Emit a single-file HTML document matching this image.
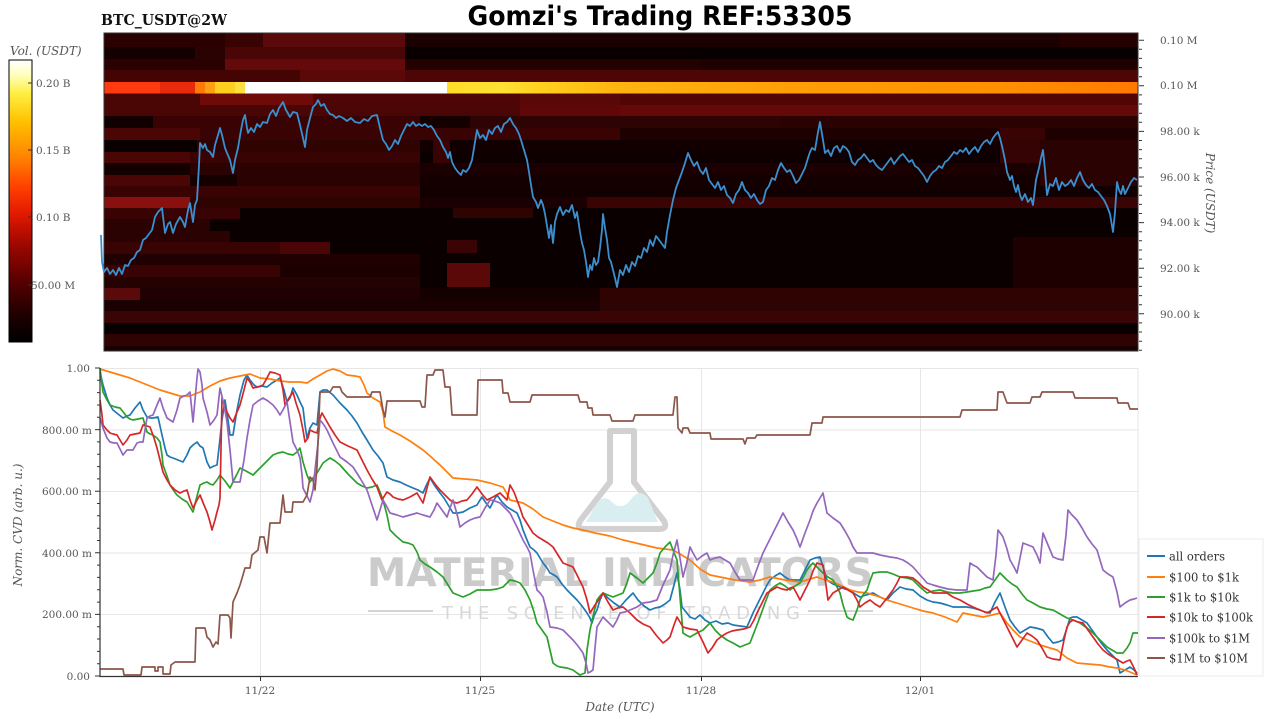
<!DOCTYPE html>
<html><head><meta charset="utf-8"><style>
html,body{margin:0;padding:0;background:#fff;}
svg{display:block;}
.t{font-family:"DejaVu Serif","Liberation Serif",serif;fill:#555;font-size:10.5px;}
.ti{font-family:"DejaVu Serif","Liberation Serif",serif;fill:#555;font-size:12px;font-style:italic;}
.lg{font-family:"DejaVu Serif","Liberation Serif",serif;fill:#333;font-size:12.5px;}
</style></head><body>
<svg width="1280" height="720" viewBox="0 0 1280 720" xmlns="http://www.w3.org/2000/svg">
<defs>
<linearGradient id="cb" x1="0" y1="0" x2="0" y2="1">
<stop offset="0" stop-color="#ffffff"/><stop offset="0.05" stop-color="#ffffc0"/><stop offset="0.12" stop-color="#ffee40"/><stop offset="0.22" stop-color="#ffc000"/><stop offset="0.35" stop-color="#ff8000"/><stop offset="0.45" stop-color="#ff4000"/><stop offset="0.55" stop-color="#e01800"/><stop offset="0.65" stop-color="#a00800"/><stop offset="0.78" stop-color="#5a0000"/><stop offset="0.9" stop-color="#200000"/><stop offset="1" stop-color="#000000"/>
</linearGradient>
<linearGradient id="bnd" x1="447" y1="0" x2="1138" y2="0" gradientUnits="userSpaceOnUse">
<stop offset="0" stop-color="#ffdc28"/><stop offset="0.08" stop-color="#ffe035"/><stop offset="0.14" stop-color="#ffcf1e"/><stop offset="0.25" stop-color="#ffb410"/><stop offset="0.5" stop-color="#ff9e06"/><stop offset="0.8" stop-color="#ff9000"/><stop offset="1" stop-color="#ff7a00"/>
</linearGradient>
</defs>

<!-- Title -->
<text x="660" y="25" text-anchor="middle" textLength="385" lengthAdjust="spacingAndGlyphs" style="font-family:'DejaVu Sans','Liberation Sans',sans-serif;font-weight:bold;font-size:27px;fill:#000;">Gomzi's Trading REF:53305</text>
<text x="101" y="25" textLength="126" lengthAdjust="spacingAndGlyphs" style="font-family:'DejaVu Serif','Liberation Serif',serif;font-weight:bold;font-size:15px;fill:#111;">BTC_USDT@2W</text>

<!-- Heatmap -->
<g shape-rendering="crispEdges">
<rect x="104" y="33" width="1034" height="318" fill="#0a0000"/>
<!-- row 33-47 -->
<rect x="104" y="33" width="121" height="14" fill="#2a0000"/><rect x="225" y="33" width="38" height="14" fill="#3a0303"/><rect x="263" y="33" width="142" height="14" fill="#5a0a0a"/><rect x="405" y="33" width="733" height="14" fill="#1a0000"/><rect x="1060" y="33" width="78" height="14" fill="#250000"/>
<!-- row 47-59 -->
<rect x="104" y="47" width="91" height="12" fill="#150000"/><rect x="195" y="47" width="30" height="12" fill="#2a0202"/><rect x="225" y="47" width="180" height="12" fill="#4a0606"/><rect x="405" y="47" width="733" height="12" fill="#080000"/>
<!-- row 59-70 -->
<rect x="104" y="59" width="121" height="11" fill="#2a0000"/><rect x="225" y="59" width="180" height="11" fill="#650a0a"/><rect x="405" y="59" width="295" height="11" fill="#250000"/><rect x="700" y="59" width="438" height="11" fill="#1e0000"/>
<!-- row 70-82 -->
<rect x="104" y="70" width="196" height="12" fill="#450404"/><rect x="300" y="70" width="105" height="12" fill="#5a0808"/><rect x="405" y="70" width="733" height="12" fill="#4e0505"/>
<!-- band 82-93.5 -->
<rect x="104" y="82" width="56" height="11.5" fill="#ff3a10"/><rect x="160" y="82" width="35" height="11.5" fill="#e82a0c"/><rect x="195" y="82" width="10" height="11.5" fill="#ff7a08"/><rect x="205" y="82" width="10" height="11.5" fill="#ffa010"/><rect x="215" y="82" width="20" height="11.5" fill="#ffcf20"/><rect x="235" y="82" width="10" height="11.5" fill="#ffe040"/><rect x="245" y="82" width="202" height="11.5" fill="#ffffff"/><rect x="447" y="82" width="691" height="11.5" fill="url(#bnd)"/>
<!-- row 93.5-105 -->
<rect x="104" y="93.5" width="96" height="11.5" fill="#4a0505"/><rect x="200" y="93.5" width="113" height="11.5" fill="#6e0a08"/><rect x="313" y="93.5" width="207" height="11.5" fill="#500505"/><rect x="520" y="93.5" width="100" height="11.5" fill="#5a0707"/><rect x="620" y="93.5" width="518" height="11.5" fill="#520505"/>
<!-- row 105-116 -->
<rect x="104" y="105" width="416" height="11" fill="#4a0505"/><rect x="520" y="105" width="100" height="11" fill="#600808"/><rect x="620" y="105" width="518" height="11" fill="#650808"/>
<!-- row 116-128 -->
<rect x="104" y="116" width="49" height="12" fill="#100000"/><rect x="153" y="116" width="267" height="12" fill="#3a0303"/><rect x="420" y="116" width="50" height="12" fill="#150000"/><rect x="470" y="116" width="310" height="12" fill="#2e0303"/><rect x="780" y="116" width="358" height="12" fill="#2a0202"/>
<!-- row 128-140 -->
<rect x="104" y="128" width="96" height="12" fill="#4a0505"/><rect x="200" y="128" width="420" height="12" fill="#3a0303"/><rect x="620" y="128" width="518" height="12" fill="#1e0000"/><rect x="1000" y="128" width="45" height="12" fill="#3a0303"/>
<!-- row 140-152 -->
<rect x="104" y="140" width="93" height="12" fill="#0a0000"/><rect x="197" y="140" width="223" height="12" fill="#300303"/><rect x="420" y="140" width="718" height="12" fill="#120000"/><rect x="433" y="140" width="17" height="23" fill="#3a0303"/><rect x="1000" y="140" width="40" height="24" fill="#350303"/><rect x="1040" y="140" width="98" height="47" fill="#2a0202"/>
<!-- row 152-163 -->
<rect x="104" y="152" width="86" height="11" fill="#4a0505"/><rect x="190" y="152" width="230" height="11" fill="#3a0303"/><rect x="450" y="152" width="550" height="11" fill="#0e0000"/>
<!-- rows 163-197 -->
<rect x="104" y="163" width="86" height="12" fill="#150000"/><rect x="190" y="163" width="230" height="12" fill="#2a0202"/><rect x="420" y="163" width="620" height="12" fill="#1a0000"/>
<rect x="104" y="175" width="86" height="11" fill="#4a0505"/><rect x="190" y="175" width="47" height="11" fill="#150000"/><rect x="237" y="175" width="183" height="11" fill="#2a0202"/><rect x="420" y="175" width="620" height="11" fill="#150000"/>
<rect x="104" y="186" width="316" height="11" fill="#3a0303"/><rect x="420" y="186" width="718" height="11" fill="#120000"/>
<!-- row 197-208 -->
<rect x="104" y="197" width="86" height="11" fill="#8a1010"/><rect x="190" y="197" width="230" height="11" fill="#300303"/><rect x="420" y="197" width="167" height="11" fill="#1a0000"/><rect x="587" y="197" width="551" height="11" fill="#3a0404"/>
<!-- rows 208-254 -->
<rect x="104" y="208" width="136" height="11" fill="#3a0303"/><rect x="453" y="208" width="80" height="10" fill="#300303"/>
<rect x="104" y="219" width="106" height="12" fill="#2a0202"/>
<rect x="104" y="231" width="126" height="11" fill="#2a0202"/>
<rect x="104" y="242" width="176" height="12" fill="#3a0303"/><rect x="280" y="242" width="50" height="12" fill="#4a0606"/>
<rect x="447" y="240" width="30" height="13" fill="#3a0404"/>
<!-- rows 254-300 -->
<rect x="104" y="254" width="316" height="11" fill="#200000"/><rect x="1013" y="237" width="125" height="53" fill="#1e0000"/>
<rect x="104" y="265" width="176" height="12" fill="#3a0303"/><rect x="280" y="265" width="140" height="12" fill="#1c0000"/><rect x="447" y="263" width="43" height="24" fill="#5a0808"/>
<rect x="104" y="277" width="316" height="11" fill="#250202"/>
<rect x="104" y="288" width="36" height="12" fill="#5a0a0a"/><rect x="140" y="288" width="280" height="12" fill="#200000"/><rect x="420" y="288" width="180" height="12" fill="#150000"/><rect x="600" y="288" width="538" height="12" fill="#300303"/>
<!-- rows 300-351 -->
<rect x="104" y="300" width="496" height="11" fill="#1a0000"/><rect x="600" y="300" width="538" height="11" fill="#2e0303"/>
<rect x="104" y="311" width="1034" height="12" fill="#3a0404"/>
<rect x="104" y="323" width="1034" height="11" fill="#080000"/>
<rect x="104" y="334" width="1034" height="12" fill="#300303"/>
<rect x="104" y="346" width="1034" height="5" fill="#1a0000"/>
</g>
<rect x="104" y="33" width="1034" height="318" fill="none" stroke="#333" stroke-width="1"/>

<!-- Price line -->
<polyline fill="none" stroke="#3a8fd0" stroke-width="1.8" stroke-linejoin="round" points="101,235 102,262 104,272 107,268 110,274 113,270 116,275 119,268 122,274 125,265 128,266 131,260 134,258 137,252 140,250 143,240 146,238 149,234 152,230 155,217 158,212 162,208 165,233 168,224 170,222 173,233 176,224 180,217 183,222 185,227 188,210 190,203 193,222 195,205 197,200 199,165 200,143 203,148 205,144 207,150 210,152 213,157 215,145 218,135 220,128 222,135 225,148 227,153 230,160 233,173 235,160 238,148 241,130 243,120 245,115 247,128 248,133 251,128 254,132 257,124 260,127 263,122 267,123 270,114 273,110 276,116 279,108 283,102 286,110 290,117 293,112 297,113 300,125 303,138 305,147 307,130 310,118 313,107 316,104 318,100 321,106 324,104 327,110 330,114 333,115 336,118 339,116 343,118 347,121 351,118 355,122 360,123 364,119 368,121 372,116 377,115 380,128 383,140 386,144 389,150 392,146 395,140 398,144 401,136 404,130 407,124 410,126 413,122 416,126 419,124 422,126 425,124 428,127 431,126 434,130 437,136 440,140 443,147 446,152 448,158 450,152 452,162 455,168 458,172 461,175 463,170 466,172 469,168 472,160 475,142 477,130 480,138 483,135 486,140 489,130 492,134 495,128 498,126 501,132 504,124 507,122 510,118 513,124 516,128 519,134 521,140 524,150 527,160 529,172 531,185 533,197 536,202 538,208 541,200 543,205 545,214 547,226 549,238 551,225 553,243 555,222 557,214 560,207 563,215 566,210 569,212 572,205 575,218 577,212 580,232 582,243 584,250 586,262 588,277 590,265 592,270 594,258 596,265 598,262 600,248 602,230 603,214 605,228 607,240 609,258 611,262 613,270 615,278 617,287 620,270 623,275 626,265 629,272 632,262 635,266 638,256 641,258 644,248 647,252 650,240 653,246 656,236 659,240 662,244 665,248 667,232 670,215 673,200 676,188 679,180 682,172 685,163 688,153 691,160 694,166 697,162 700,170 703,174 706,168 709,180 712,184 715,188 718,182 721,190 724,186 727,195 730,198 733,203 736,194 739,190 742,182 745,190 748,193 751,198 754,194 757,200 760,204 763,202 766,190 769,186 772,178 775,180 778,170 781,163 784,168 787,172 790,170 793,176 796,183 799,180 802,174 805,168 808,158 810,152 812,148 815,150 818,132 820,122 823,140 825,153 828,150 831,156 834,148 837,146 840,152 843,146 846,148 849,152 852,162 855,165 858,160 861,158 864,154 867,158 870,162 873,160 876,165 879,168 882,170 885,166 888,162 891,158 894,164 897,160 900,156 903,154 906,158 909,162 912,160 915,166 918,168 921,172 924,176 927,182 930,176 933,172 936,170 939,166 942,168 945,162 948,160 951,156 954,152 957,154 960,150 963,152 966,148 969,154 972,150 975,147 978,152 981,146 984,142 987,140 990,144 993,138 996,134 998,132 1000,138 1002,146 1005,160 1007,172 1010,180 1012,176 1014,186 1016,192 1018,185 1020,195 1022,200 1025,194 1028,202 1031,198 1033,205 1036,180 1039,168 1041,158 1043,150 1045,170 1047,195 1050,184 1053,186 1056,178 1059,190 1062,182 1065,186 1068,184 1071,180 1074,186 1077,178 1080,172 1083,180 1086,185 1089,188 1092,184 1095,190 1098,192 1101,196 1104,200 1107,206 1110,214 1112,226 1113,232 1115,212 1117,182 1119,190 1121,194 1123,186 1125,194 1127,190 1129,186 1131,182 1134,178 1137,180"/>

<!-- Heatmap right axis ticks -->
<path stroke="#333" stroke-width="1" fill="none" d="M1139,40.2h5M1139,49.3h3M1139,58.4h3M1139,67.6h3M1139,76.7h3M1139,85.8h5M1139,94.9h3M1139,104h3M1139,113.2h3M1139,122.3h3M1139,131.4h5M1139,140.5h3M1139,149.6h3M1139,158.8h3M1139,167.9h3M1139,177h5M1139,186.1h3M1139,195.2h3M1139,204.4h3M1139,213.5h3M1139,222.6h5M1139,231.7h3M1139,240.8h3M1139,250h3M1139,259.1h3M1139,268.2h5M1139,277.3h3M1139,286.4h3M1139,295.6h3M1139,304.7h3M1139,313.8h5M1139,322.9h3M1139,332h3M1139,341.2h3M1139,350.3h3"/>
<text class="t" x="1160" y="44">0.10 M</text>
<text class="t" x="1160" y="89">0.10 M</text>
<text class="t" x="1160" y="135">98.00 k</text>
<text class="t" x="1160" y="181">96.00 k</text>
<text class="t" x="1160" y="226">94.00 k</text>
<text class="t" x="1160" y="272">92.00 k</text>
<text class="t" x="1160" y="318">90.00 k</text>
<text class="ti" transform="translate(1206,193) rotate(90)" text-anchor="middle">Price (USDT)</text>

<!-- Colorbar -->
<text class="ti" x="10" y="55">Vol. (USDT)</text>
<rect x="9" y="60" width="23" height="282" fill="url(#cb)" stroke="#000" stroke-width="1"/>
<path stroke="#333" stroke-width="1" d="M28,83h4M28,150h4M28,217h4M28,285h4"/>
<text class="t" x="36" y="87">0.20 B</text>
<text class="t" x="36" y="154">0.15 B</text>
<text class="t" x="36" y="221">0.10 B</text>
<text class="t" x="31" y="289">50.00 M</text>

<!-- Bottom chart grid -->
<path stroke="#e6e6e6" stroke-width="1" fill="none" d="M100,368.5H1138M100,430H1138M100,491.5H1138M100,553H1138M100,614.5H1138M260.5,368V676M480.5,368V676M701.5,368V676M920.5,368V676M1138,368V676"/>

<!-- Watermark -->
<g opacity="0.95">
<path d="M610,431 H634 V482 L664,521 Q668,529 659,529 H585 Q576,529 580,521 L610,482 Z" fill="none" stroke="#cfcfcf" stroke-width="6" stroke-linejoin="round"/>
<path d="M586,522 L597,503 Q604,494 612,502 Q622,512 632,498 Q640,488 648,498 L658,522 Z" fill="#d6eef0"/>
<text x="367" y="586" textLength="506" lengthAdjust="spacingAndGlyphs" style="font-family:'DejaVu Sans','Liberation Sans',sans-serif;font-weight:bold;font-size:39px;fill:#c9c9c9;">MATERIAL INDICATORS</text>
<text x="442" y="619" textLength="358" lengthAdjust="spacing" style="font-family:'DejaVu Sans','Liberation Sans',sans-serif;font-size:18px;fill:#d6d6d6;">THE SCIENCE OF TRADING</text>
<path stroke="#d2d2d2" stroke-width="2" d="M368,611H433M808,611H873"/>
</g>

<!-- Series -->
<g fill="none" stroke-width="1.7" stroke-linejoin="round">
<polyline stroke="#1f77b4" points="100,372 103,385 107,398 110,405 113,410 118,414 123,418 127,416 130,415 135,408 140,402 143,410 147,417 150,418 153,418 158,417 162,435 165,448 167,455 170,457 173,458 178,460 183,462 187,455 190,448 193,445 197,442 200,446 203,448 207,462 210,468 214,466 217,465 219,448 222,420 225,400 228,420 230,435 233,435 237,410 240,395 244,380 247,375 250,380 254,385 257,387 262,386 267,387 272,383 277,380 280,378 284,390 287,402 290,398 293,388 297,395 300,402 303,408 305,425 307,438 310,428 313,423 317,425 320,392 323,390 327,390 333,395 340,403 347,410 352,416 357,423 362,432 367,440 373,450 378,456 383,463 385,470 387,477 393,480 400,482 406,485 413,488 418,490 423,493 426,486 430,478 435,486 440,493 444,498 447,503 450,508 453,513 458,513 463,512 470,508 477,505 480,500 482,497 486,503 490,508 494,500 497,495 502,502 507,507 512,510 517,513 520,520 523,530 527,540 530,547 534,550 537,553 540,558 543,563 547,568 550,573 554,575 557,577 562,584 567,590 572,595 577,600 582,606 587,613 590,618 592,623 594,616 597,610 600,600 603,593 608,598 614,603 620,607 626,600 633,593 638,600 644,606 650,610 655,608 660,607 665,604 670,600 674,585 677,573 680,590 682,607 686,612 690,617 695,619 700,615 705,620 710,623 716,621 722,624 728,623 733,625 740,626 747,627 750,620 753,613 758,603 763,593 767,585 770,580 775,576 780,573 785,577 790,580 795,580 800,580 805,570 810,560 815,558 820,557 824,570 827,580 833,584 840,587 845,589 850,590 855,594 860,597 866,595 873,593 880,597 887,600 893,593 900,587 906,589 913,590 920,596 927,600 933,602 940,603 947,605 953,607 960,607 967,607 973,608 980,610 985,612 990,613 995,602 1000,593 1005,607 1010,620 1015,627 1020,633 1025,630 1030,627 1036,628 1043,630 1048,637 1053,643 1058,642 1063,640 1067,628 1070,618 1073,617 1077,617 1082,620 1087,623 1092,630 1097,637 1102,644 1107,650 1112,655 1117,660 1120,673 1125,670 1130,667 1134,670 1137,673"/>
<polyline stroke="#ff7f0e" points="100,369 110,372 120,375 130,378 140,382 150,386 160,390 170,393 180,396 190,396 195,394 200,392 210,386 220,381 230,378 240,376 250,374 255,376 260,378 270,379 280,381 290,382 300,382 307,383 313,379 320,375 327,371 333,369 340,371 347,375 355,376 360,377 364,385 367,393 373,398 380,402 383,412 385,427 392,431 400,435 410,441 423,450 430,456 440,465 447,472 453,478 465,479 477,480 490,483 503,487 507,494 510,500 523,503 533,509 543,517 553,521 563,525 573,528 583,530 595,533 610,536 623,540 640,544 657,548 673,550 680,554 690,560 700,569 710,575 720,577 735,580 750,582 760,580 770,577 785,580 800,582 810,579 817,577 825,580 833,582 842,586 850,590 858,592 867,593 877,596 887,600 900,604 913,608 923,611 933,613 945,617 957,622 963,613 973,615 983,617 992,615 1000,613 1007,623 1013,630 1020,637 1030,641 1040,645 1050,648 1057,650 1062,654 1067,658 1077,663 1088,664 1100,665 1110,667 1117,668 1125,670 1130,672 1137,675"/>
<polyline stroke="#2ca02c" points="100,368 102,385 103,392 107,400 110,405 115,407 120,408 124,413 127,417 130,419 133,420 138,419 143,418 145,425 147,432 150,434 153,435 157,438 160,442 162,455 163,465 167,476 170,485 174,491 177,495 182,499 187,502 190,507 193,512 196,500 200,485 204,483 207,482 210,484 213,485 217,480 220,475 225,481 230,488 235,478 240,468 246,471 253,475 258,470 263,465 268,460 273,455 278,453 283,452 288,454 293,455 297,452 300,448 303,462 307,475 310,482 313,478 317,473 320,468 323,463 327,460 330,458 335,461 340,465 348,474 357,483 362,486 367,488 372,487 377,485 380,492 383,500 387,515 390,530 396,536 403,542 408,543 413,545 417,552 420,560 425,564 430,567 437,572 443,577 448,585 453,593 458,595 463,597 470,594 477,590 483,590 490,590 497,589 503,587 507,583 510,580 515,581 520,583 525,590 530,600 534,612 537,623 542,630 547,637 550,650 553,663 557,666 560,667 567,668 573,670 577,673 580,675 585,673 587,650 590,630 594,612 597,600 600,596 603,593 608,595 613,597 618,595 623,593 627,583 630,573 637,578 643,583 648,578 653,573 657,563 660,553 665,547 670,542 673,550 677,560 680,597 683,633 686,635 690,637 697,633 703,630 707,626 710,623 715,630 720,635 727,640 733,643 740,647 745,645 750,643 755,630 760,617 765,603 770,590 775,586 780,583 785,586 790,590 795,586 800,583 804,576 807,570 810,566 813,563 818,568 823,573 828,577 833,580 837,587 840,593 843,605 847,617 850,619 853,620 857,610 860,600 863,595 867,590 870,581 873,573 880,572 887,572 893,574 900,577 907,578 913,580 920,587 927,593 933,591 940,590 947,592 953,593 960,593 967,592 973,591 980,590 985,588 990,587 995,580 1000,573 1004,577 1007,580 1012,584 1017,587 1022,594 1027,600 1033,603 1040,607 1047,609 1053,610 1060,614 1067,618 1073,620 1080,623 1087,628 1093,633 1100,640 1107,647 1112,650 1117,653 1123,653 1127,648 1130,643 1133,633 1138,633"/>
<polyline stroke="#d62728" points="100,400 102,415 103,425 107,430 110,433 113,434 117,435 120,440 123,445 127,440 130,435 135,434 140,433 143,425 147,426 150,427 154,438 157,448 160,460 163,472 167,480 170,485 175,490 180,493 184,491 187,490 190,500 193,508 197,500 200,495 204,505 207,512 210,522 212,530 215,520 217,512 219,505 220,498 222,398 226,410 230,418 233,422 237,412 240,405 244,390 247,378 250,382 253,388 258,387 263,385 267,378 270,372 275,373 280,375 283,390 285,405 289,398 293,392 296,403 300,415 303,430 305,442 308,438 310,430 314,432 317,433 320,418 322,413 326,420 330,427 335,435 340,442 348,446 357,450 362,460 367,470 372,479 377,487 380,495 382,500 385,495 387,492 390,494 393,497 398,499 403,500 410,497 417,493 420,498 423,503 427,488 430,477 435,484 440,490 445,495 450,500 453,502 457,503 462,501 467,500 472,494 477,487 482,494 487,500 493,497 500,493 504,497 507,500 510,485 514,492 517,500 520,508 523,517 528,525 533,533 538,537 543,540 548,543 553,547 558,555 563,563 568,565 573,567 578,577 583,587 587,600 590,613 595,605 600,598 603,593 608,602 613,610 618,608 623,607 630,613 637,620 643,624 650,627 656,635 663,643 667,640 670,637 674,625 677,617 680,622 683,627 690,629 697,630 703,642 708,653 712,648 717,640 722,636 727,633 732,631 737,630 744,629 750,627 754,620 757,613 762,603 767,593 772,590 777,587 782,589 787,590 790,588 793,587 797,594 800,600 805,590 810,580 813,571 817,563 820,564 823,565 826,585 828,600 833,593 838,590 843,587 848,590 853,593 857,600 860,607 865,603 870,600 875,604 880,607 887,598 893,590 897,583 900,577 907,577 913,578 918,582 923,587 928,590 933,593 940,593 947,593 953,597 960,600 967,604 973,607 980,610 987,613 992,610 997,607 1002,617 1007,627 1012,637 1017,647 1022,640 1027,633 1032,636 1037,640 1042,648 1047,657 1053,659 1060,660 1064,640 1067,627 1070,622 1073,620 1078,622 1083,623 1088,630 1093,637 1098,644 1103,650 1108,654 1113,657 1118,660 1123,663 1127,661 1130,660 1134,668 1137,675"/>
<polyline stroke="#9467bd" points="100,418 103,428 107,438 110,442 114,443 117,443 120,449 123,455 127,450 130,450 133,450 137,443 140,442 143,442 147,418 150,416 153,415 157,405 160,398 163,408 167,418 170,420 173,422 177,410 180,398 184,396 187,395 190,392 193,422 195,400 197,378 198,369 200,372 202,385 203,398 207,412 210,425 214,420 217,415 220,388 224,405 227,422 230,450 233,482 237,482 240,482 244,460 247,438 250,420 253,405 258,401 263,398 268,401 273,405 277,410 280,415 284,408 287,402 290,422 293,442 297,450 300,458 302,475 303,488 307,496 310,502 313,490 315,470 318,443 320,420 324,425 327,430 333,443 340,457 347,462 353,467 360,478 367,490 372,505 377,520 380,510 383,500 387,507 390,513 397,515 403,517 410,515 417,513 423,515 430,517 434,510 437,503 442,510 447,517 450,508 453,500 457,514 460,527 465,523 470,520 475,518 480,517 485,508 490,500 495,501 500,503 505,508 510,513 517,527 523,540 527,547 530,553 533,570 537,590 540,593 543,597 547,612 550,627 557,628 563,630 568,635 573,640 578,646 583,653 586,663 588,673 590,672 593,670 595,648 597,627 600,622 603,617 608,622 613,627 617,620 620,613 625,612 630,610 637,607 643,603 650,602 657,600 663,585 670,570 673,555 677,540 680,558 683,577 687,562 690,547 693,553 697,560 702,556 707,553 710,560 715,558 720,557 725,560 730,563 735,572 740,580 747,580 753,580 758,566 763,553 768,543 773,533 778,523 783,513 788,522 793,530 797,539 800,547 805,533 810,520 813,511 817,503 820,498 823,493 825,503 827,513 833,518 840,523 845,531 850,540 853,547 857,553 865,553 873,553 880,555 890,557 897,558 903,560 908,563 913,567 920,575 927,583 933,585 940,587 948,589 957,590 962,590 967,590 970,563 973,565 977,567 982,572 987,577 993,580 996,555 998,530 1001,534 1003,537 1007,549 1010,560 1014,567 1017,573 1020,558 1023,543 1028,545 1033,547 1037,555 1040,563 1043,533 1048,545 1053,557 1058,559 1063,560 1066,535 1068,510 1072,515 1077,520 1082,528 1087,537 1092,544 1097,550 1100,560 1103,570 1108,574 1113,577 1117,592 1120,607 1125,603 1130,600 1134,599 1137,598"/>
<polyline stroke="#8c564b" points="100,669 123,669 124,675 141,675 142,667 155,667 155,671 158,671 158,667 163,667 163,674 170,674 171,665 175,662 195,662 196,628 205,628 207,637 210,640 213,647 216,642 218,644 220,615 228,615 230,618 231,638 233,602 237,593 240,585 243,575 245,568 250,568 252,555 258,550 260,537 264,537 267,553 270,523 280,523 283,495 285,512 292,512 293,502 303,502 307,495 310,477 313,480 315,490 317,467 320,392 330,392 333,387 340,387 342,392 347,397 370,397 372,392 380,392 383,410 385,417 387,401 420,401 422,407 425,407 427,375 433,375 435,370 443,370 445,387 450,387 452,415 477,415 478,380 502,380 503,393 508,393 510,402 530,402 532,395 578,395 580,402 587,402 588,408 592,408 593,415 610,415 612,421 633,421 635,415 673,415 675,397 677,397 678,428 682,433 683,428 688,428 690,433 710,433 711,439 743,439 745,444 747,438 755,438 757,435 810,435 812,423 822,423 823,417 960,417 962,410 997,410 998,392 1003,392 1007,403 1030,403 1032,397 1040,397 1042,392 1073,392 1075,398 1117,398 1118,403 1128,403 1130,409 1138,409"/>
</g>

<!-- Bottom axes -->
<path stroke="#333" stroke-width="1.2" fill="none" d="M100,368V676.5H1138"/>
<path stroke="#333" stroke-width="1" fill="none" d="M95,368h5M97,380.3h3M97,392.6h3M97,405h3M97,417.3h3M95,429.6h5M97,441.9h3M97,454.2h3M97,466.6h3M97,478.9h3M95,491.2h5M97,503.5h3M97,515.8h3M97,528.2h3M97,540.5h3M95,552.8h5M97,565.1h3M97,577.4h3M97,589.8h3M97,602.1h3M95,614.4h5M97,626.7h3M97,639h3M97,651.4h3M97,663.7h3M95,676h5M260.5,676v5M480.5,676v5M701.5,676v5M920.5,676v5"/>
<text class="t" x="90" y="372" text-anchor="end">1.00</text>
<text class="t" x="92" y="434" text-anchor="end">800.00 m</text>
<text class="t" x="92" y="495" text-anchor="end">600.00 m</text>
<text class="t" x="92" y="557" text-anchor="end">400.00 m</text>
<text class="t" x="92" y="618" text-anchor="end">200.00 m</text>
<text class="t" x="90" y="680" text-anchor="end">0.00</text>
<text class="t" x="260" y="694" text-anchor="middle">11/22</text>
<text class="t" x="480" y="694" text-anchor="middle">11/25</text>
<text class="t" x="701" y="694" text-anchor="middle">11/28</text>
<text class="t" x="920" y="694" text-anchor="middle">12/01</text>
<text class="ti" x="620" y="711" text-anchor="middle">Date (UTC)</text>
<text class="ti" transform="translate(22,525) rotate(-90)" text-anchor="middle">Norm. CVD (arb. u.)</text>

<!-- Legend -->
<rect x="1139" y="539" width="124" height="137" fill="#fff" stroke="#ebebeb" stroke-width="1"/>
<g stroke-width="2">
<line x1="1147" y1="556" x2="1165" y2="556" stroke="#1f77b4"/>
<line x1="1147" y1="577" x2="1165" y2="577" stroke="#ff7f0e"/>
<line x1="1147" y1="597" x2="1165" y2="597" stroke="#2ca02c"/>
<line x1="1147" y1="617" x2="1165" y2="617" stroke="#d62728"/>
<line x1="1147" y1="638" x2="1165" y2="638" stroke="#9467bd"/>
<line x1="1147" y1="658" x2="1165" y2="658" stroke="#8c564b"/>
</g>
<text class="lg" x="1169" y="560.5" textLength="56" lengthAdjust="spacingAndGlyphs">all orders</text>
<text class="lg" x="1169" y="581.5" textLength="70" lengthAdjust="spacingAndGlyphs">$100 to $1k</text>
<text class="lg" x="1169" y="601.5" textLength="70" lengthAdjust="spacingAndGlyphs">$1k to $10k</text>
<text class="lg" x="1169" y="621.5" textLength="84" lengthAdjust="spacingAndGlyphs">$10k to $100k</text>
<text class="lg" x="1169" y="642.5" textLength="81" lengthAdjust="spacingAndGlyphs">$100k to $1M</text>
<text class="lg" x="1169" y="662.5" textLength="79" lengthAdjust="spacingAndGlyphs">$1M to $10M</text>
</svg>
</body></html>
